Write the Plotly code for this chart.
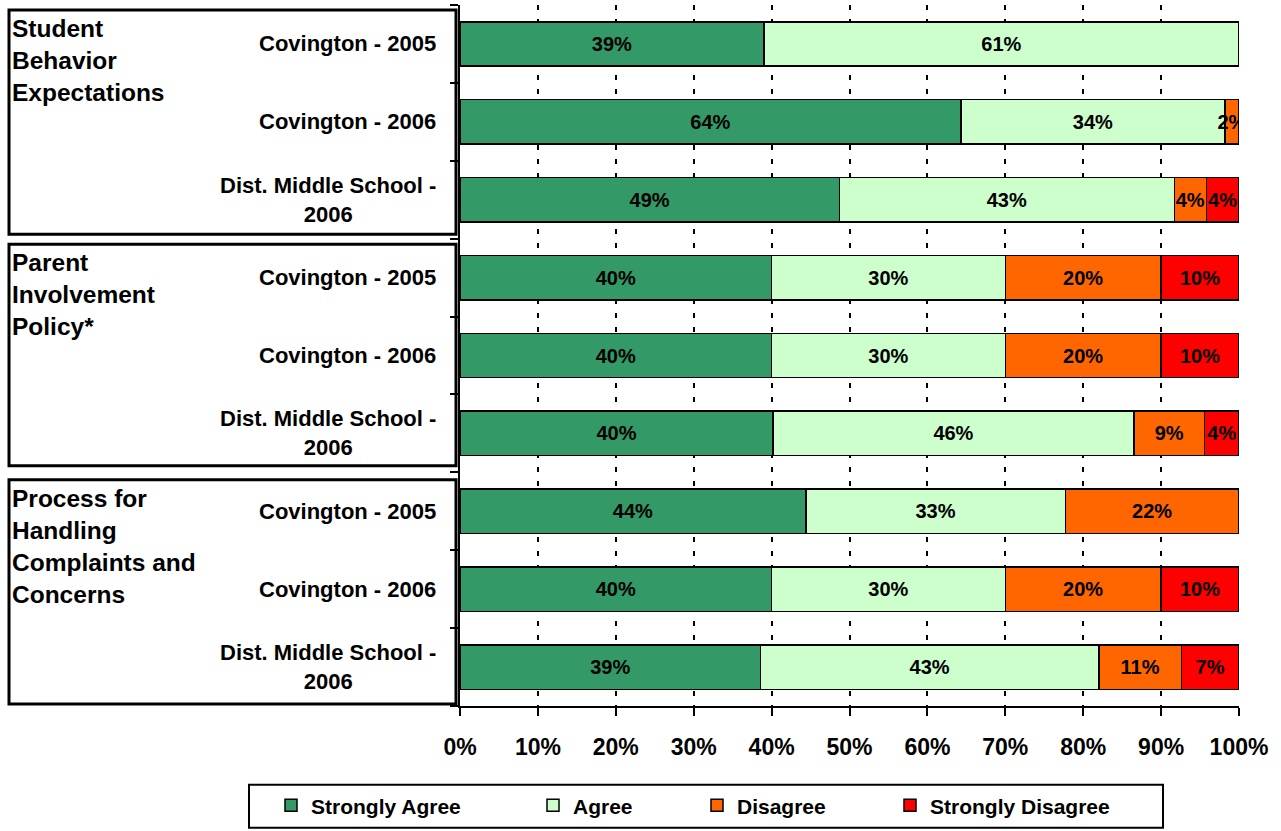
import plotly.graph_objects as go

# ---------------- data ----------------
row_labels = [
    "Covington - 2005", "Covington - 2006", "Dist. Middle School -<br>2006",
    "Covington - 2005", "Covington - 2006", "Dist. Middle School -<br>2006",
    "Covington - 2005", "Covington - 2006", "Dist. Middle School -<br>2006",
]
group_titles = [
    "Student<br>Behavior<br>Expectations",
    "Parent<br>Involvement<br>Policy*",
    "Process for<br>Handling<br>Complaints and<br>Concerns",
]
series_names = ["Strongly Agree", "Agree", "Disagree", "Strongly Disagree"]
strongly_agree = [39.0, 64.3, 48.7, 40.0, 40.0, 40.2, 44.4, 40.0, 38.6]
agree = [61.0, 33.9, 43.0, 30.0, 30.0, 46.3, 33.3, 30.0, 43.4]
disagree = [0.0, 1.8, 4.1, 20.0, 20.0, 9.1, 22.3, 20.0, 10.6]
strongly_disagree = [0.0, 0.0, 4.2, 10.0, 10.0, 4.4, 0.0, 10.0, 7.4]
x_ticks = [0, 10, 20, 30, 40, 50, 60, 70, 80, 90, 100]
x_tick_text = ["0%", "10%", "20%", "30%", "40%", "50%", "60%", "70%", "80%", "90%", "100%"]

colors = ["#339966", "#CCFFCC", "#FF6600", "#FF0000"]
FONT = "Liberation Sans, Arial, sans-serif"

# plot-area pixel geometry (for converting layout decorations to paper coords)
plot_left, plot_w = 460, 779
plot_bottom, plot_h = 708, 703


def px_x(p):
    return (p - plot_left) / plot_w


def px_y(p):
    return (plot_bottom - p) / plot_h


legend_ids = ["legend", "legend2", "legend3", "legend4"]
legend_text_starts = [310, 572, 736, 929]

positions = list(range(len(row_labels)))
fig = go.Figure()
for name, vals, col, lid in zip(series_names,
                                [strongly_agree, agree, disagree, strongly_disagree],
                                colors, legend_ids):
    fig.add_trace(go.Bar(
        y=positions, x=vals, name=name, orientation="h",
        marker=dict(color=col, line=dict(color="black", width=1.5)),
        text=[f"{v:.0f}%" if v > 0 else "" for v in vals],
        textposition="inside", insidetextanchor="middle",
        constraintext="none", textangle=0,
        textfont=dict(family=FONT, size=20, color="black", weight="bold"),
        width=0.57,
        legend=lid,
        hoverinfo="skip",
    ))

# boundaries between rows (for tick marks on the category axis)
boundaries = [p - 0.5 for p in positions] + [positions[-1] + 0.5]

legend_common = dict(
    orientation="h", xanchor="left", yanchor="middle", y=px_y(808),
    bgcolor="rgba(0,0,0,0)", borderwidth=0,
    font=dict(family=FONT, size=21, color="black", weight="bold"),
)
legends = {}
for lid, ts in zip(legend_ids, legend_text_starts):
    legends[lid] = dict(legend_common, x=px_x(ts + 1 - 40))

fig.update_layout(
    width=1281, height=831,
    barmode="stack",
    paper_bgcolor="white", plot_bgcolor="white",
    margin=dict(l=460, r=42, t=5, b=123),
    font=dict(family=FONT, color="black", weight="bold"),
    showlegend=True,
    xaxis=dict(
        range=[0, 100], tickvals=x_ticks, ticktext=x_tick_text,
        ticks="outside", ticklen=8, tickwidth=2, tickcolor="black",
        showline=True, linecolor="black", linewidth=2,
        showgrid=True, gridcolor="black", gridwidth=2, griddash="5px,9px",
        zeroline=False,
        tickfont=dict(family=FONT, size=23, color="black", weight="bold"),
        ticklabelstandoff=11,
    ),
    yaxis=dict(
        range=[len(row_labels) - 0.5, -0.5],
        tickvals=boundaries, ticktext=["" for _ in boundaries],
        ticks="outside", ticklen=8, tickwidth=2, tickcolor="black",
        showline=True, linecolor="black", linewidth=2,
        showgrid=False, zeroline=False,
    ),
    **legends,
)

# legend frame
fig.add_shape(
    type="rect", xref="paper", yref="paper",
    x0=px_x(249), x1=px_x(1163), y0=px_y(830), y1=px_y(787),
    line=dict(color="black", width=2), fillcolor="rgba(0,0,0,0)",
)

# category labels
for pos, lab in zip(positions, row_labels):
    fig.add_annotation(
        x=px_x(438), xref="paper", y=pos, yref="y",
        text=lab, showarrow=False, xanchor="right", yanchor="middle",
        align="center",
        font=dict(family=FONT, size=22, color="black", weight="bold"),
    )

# group boxes
box_tops = [10, 245, 481]
box_bottoms = [235, 467, 706]
for title, top, bot in zip(group_titles, box_tops, box_bottoms):
    fig.add_shape(
        type="rect", xref="paper", yref="paper",
        x0=px_x(9), x1=px_x(456), y0=px_y(bot), y1=px_y(top),
        line=dict(color="black", width=3), fillcolor="rgba(0,0,0,0)",
        layer="above",
    )
    fig.add_annotation(
        x=px_x(10), xref="paper", y=px_y(top + 3), yref="paper",
        text=title, showarrow=False, xanchor="left", yanchor="top",
        align="left",
        font=dict(family=FONT, size=24.5, color="black", weight="bold"),
    )

fig.write_html(
    "out.html",
    config={"displayModeBar": False},
    post_script="document.body.style.margin='0px';",
)
